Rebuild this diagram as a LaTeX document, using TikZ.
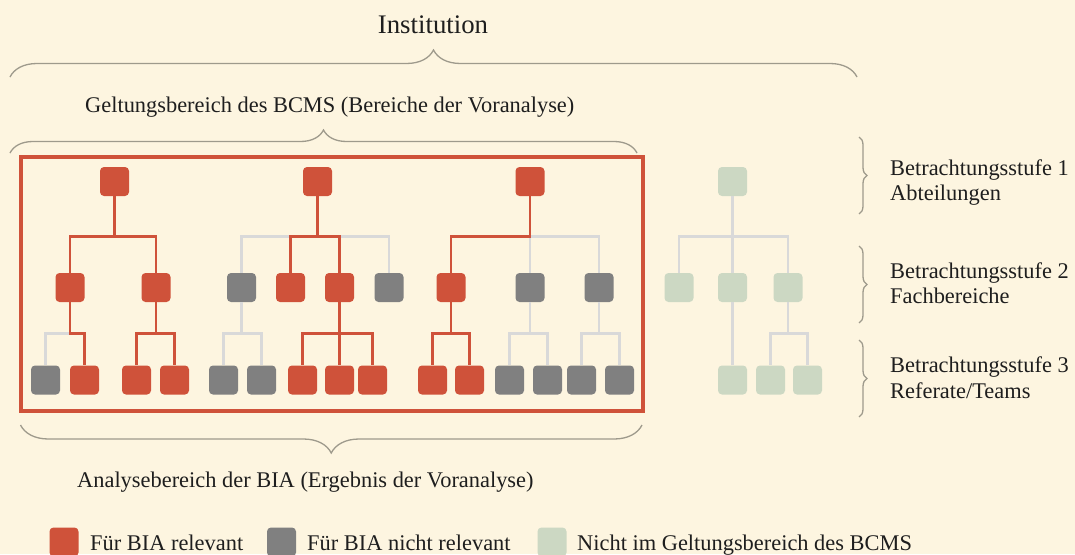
\documentclass[tikz,border=0pt]{standalone}
\usepackage{fontspec}
\setmainfont{Liberation Serif}
\usetikzlibrary{decorations.pathreplacing}

\definecolor{paper}{HTML}{FDF5E0}
\definecolor{relred}{HTML}{CF523A}
\definecolor{nrgray}{HTML}{808080}
\definecolor{outgreen}{HTML}{CCD8C3}
\definecolor{wire}{HTML}{D9D9D9}
\definecolor{bracecol}{HTML}{9E9A8C}
\definecolor{ink}{HTML}{1E1E1E}

\tikzset{
  unit/.style={minimum size=29pt, inner sep=0pt, rounded corners=4pt},
  rel/.style={unit, fill=relred},
  nrel/.style={unit, fill=nrgray},
  outs/.style={unit, fill=outgreen},
  redwire/.style={draw=relred, line width=2.7pt},
  graywire/.style={draw=wire, line width=2.7pt},
  frame/.style={draw=relred, line width=3.2pt},
  bracket/.style={draw=bracecol, line width=1.3pt,
    decorate, decoration={brace, amplitude=#1, aspect=0.5}},
  lbl/.style={anchor=base west, inner sep=0pt, text=ink,
    font=\fontsize{22.4}{26}\selectfont},
}
% connector: parent south, drop, run across, down into child
\newcommand\hookup[4]{\draw[#1] (#2.south) -- ++(0,#3) -| (#4.north);}

\begin{document}
\begin{tikzpicture}[x=1pt, y=-1pt]
\fill[paper] (0,0) rectangle (1075,554);
\useasboundingbox (0,0) rectangle (1075,554);

% ---- tree 1 ----
\node[rel]  (a1) at (114.5,181.5) {};
\node[rel]  (a2) at (70,287.5) {};
\node[rel]  (a3) at (156,287.5) {};
\node[nrel] (a4) at (45.5,380) {};
\node[rel]  (a5) at (84.5,380) {};
\node[rel]  (a6) at (136.5,380) {};
\node[rel]  (a7) at (174.5,380) {};
% ---- tree 2 ----
\node[rel]  (b1) at (317.5,181.5) {};
\node[nrel] (b2) at (241.5,287.5) {};
\node[rel]  (b3) at (290.5,287.5) {};
\node[rel]  (b4) at (339.5,287.5) {};
\node[nrel] (b5) at (389,287.5) {};
\node[nrel] (b6) at (223.5,380) {};
\node[nrel] (b7) at (261.5,380) {};
\node[rel]  (b8) at (302.5,380) {};
\node[rel]  (b9) at (339.5,380) {};
\node[rel]  (b10) at (372.5,380) {};
% ---- tree 3 ----
\node[rel]  (c1) at (530,181.5) {};
\node[rel]  (c2) at (451,287.5) {};
\node[nrel] (c3) at (530,287.5) {};
\node[nrel] (c4) at (599,287.5) {};
\node[rel]  (c5) at (432.5,380) {};
\node[rel]  (c6) at (469.5,380) {};
\node[nrel] (c7) at (509.5,380) {};
\node[nrel] (c8) at (547.5,380) {};
\node[nrel] (c9) at (581.5,380) {};
\node[nrel] (c10) at (619.5,380) {};
% ---- tree 4 (outside the BCMS scope) ----
\node[outs] (d1) at (732.5,181.5) {};
\node[outs] (d2) at (679,287.5) {};
\node[outs] (d3) at (732.5,287.5) {};
\node[outs] (d4) at (788,287.5) {};
\node[outs] (d5) at (732.5,380) {};
\node[outs] (d6) at (770.5,380) {};
\node[outs] (d7) at (807.5,380) {};

% ---- grey connectors ----
\hookup{graywire}{a2}{31}{a4}
\hookup{graywire}{b1}{40}{b2}
\hookup{graywire}{b1}{40}{b5}
\hookup{graywire}{b2}{31}{b6}
\hookup{graywire}{b2}{31}{b7}
\hookup{graywire}{c1}{40}{c3}
\hookup{graywire}{c1}{40}{c4}
\hookup{graywire}{c3}{31}{c7}
\hookup{graywire}{c3}{31}{c8}
\hookup{graywire}{c4}{31}{c9}
\hookup{graywire}{c4}{31}{c10}
\hookup{graywire}{d1}{40}{d2}
\hookup{graywire}{d1}{40}{d3}
\hookup{graywire}{d1}{40}{d4}
\hookup{graywire}{d3}{31}{d5}
\hookup{graywire}{d4}{31}{d6}
\hookup{graywire}{d4}{31}{d7}

% ---- red connectors ----
\hookup{redwire}{a1}{40}{a2}
\hookup{redwire}{a1}{40}{a3}
\hookup{redwire}{a2}{31}{a5}
\hookup{redwire}{a3}{31}{a6}
\hookup{redwire}{a3}{31}{a7}
\hookup{redwire}{b1}{40}{b3}
\hookup{redwire}{b1}{40}{b4}
\hookup{redwire}{b4}{31}{b8}
\hookup{redwire}{b4}{31}{b9}
\hookup{redwire}{b4}{31}{b10}
\hookup{redwire}{c1}{40}{c2}
\hookup{redwire}{c2}{31}{c5}
\hookup{redwire}{c2}{31}{c6}

% ---- analysis frame ----
\draw[frame] (21,157) rectangle (643,411);

% ---- braces ----
\draw[bracket=27] (10,77) -- (857,77);
\draw[bracket=23] (10,153) -- (637,153);
\draw[bracket=28] (642,425) -- (20.5,425);
\draw[bracket=8] (859,137) -- (859,214);
\draw[bracket=8] (859,246) -- (859,323);
\draw[bracket=8] (859,340) -- (859,417);

% ---- labels ----
\node[lbl, anchor=base, font=\fontsize{26.8}{30}\selectfont] (inst) at (433,33) {Institution};
\node[lbl] (scope) at (85,112) {Geltungsbereich des BCMS (Bereiche der Voranalyse)};
\node[lbl] (area) at (77,487) {Analysebereich der BIA (Ergebnis der Voranalyse)};
\node[lbl] (s1a) at (890,175) {Betrachtungsstufe 1};
\node[lbl] (s1b) at (890,200) {Abteilungen};
\node[lbl] (s2a) at (890,278) {Betrachtungsstufe 2};
\node[lbl] (s2b) at (890,303) {Fachbereiche};
\node[lbl] (s3a) at (890,372) {Betrachtungsstufe 3};
\node[lbl] (s3b) at (890,398) {Referate/Teams};

% ---- legend ----
\node[rel]  (k1) at (64,542) {};
\node[nrel] (k2) at (281.5,542) {};
\node[outs] (k3) at (552,542) {};
\node[lbl] (k1t) at (90,550) {Für BIA relevant};
\node[lbl] (k2t) at (307,550) {Für BIA nicht relevant};
\node[lbl] (k3t) at (577,550) {Nicht im Geltungsbereich des BCMS};
\end{tikzpicture}
\end{document}
